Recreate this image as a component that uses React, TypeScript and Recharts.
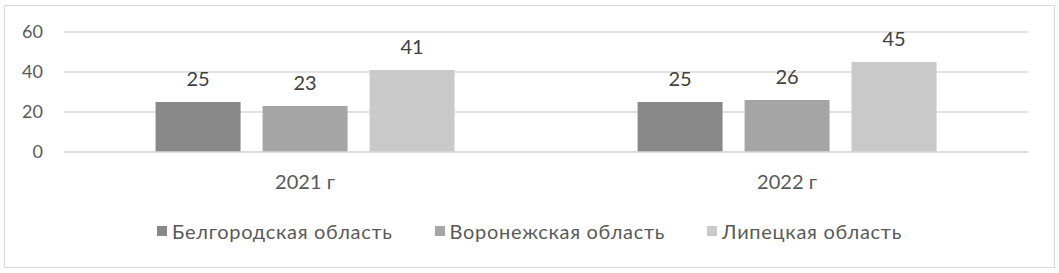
import React from "react";
import { BarChart, Bar, XAxis, YAxis, CartesianGrid, Legend, LabelList } from "recharts";

const years = ["2021 г", "2022 г"];
const belgorod = [25, 25];
const voronezh = [23, 26];
const lipetsk = [41, 45];
const yTicks = [0, 20, 40, 60];

const seriesNames = ["Белгородская область", "Воронежская область", "Липецкая область"];
const seriesColors = ["#898989", "#a5a5a5", "#c9c9c9"];

const data = years.map((y, i) => ({
  year: y,
  s0: belgorod[i],
  s1: voronezh[i],
  s2: lipetsk[i],
}));

const FONT = "Lato, 'Noto Sans', sans-serif";

function LegendContent() {
  return (
    <div
      style={{
        display: "flex",
        justifyContent: "center",
        fontFamily: FONT,
        fontSize: 20,
        letterSpacing: 0.7,
        color: "#595959",
        lineHeight: "24px",
      }}
    >
      {seriesNames.map((name, i) => (
        <div key={name} style={{ display: "flex", alignItems: "center", marginRight: i < 2 ? 42 : 0 }}>
          <span style={{ width: 10, height: 10, background: seriesColors[i], marginRight: 5, display: "inline-block" }} />
          <span>{name}</span>
        </div>
      ))}
    </div>
  );
}

export default function App() {
  return (
    <div style={{ position: "relative", width: 1059, height: 273, background: "#fff" }}>
      <style>{`body{margin:0}`}</style>
      <div
        style={{
          position: "absolute",
          left: 4,
          top: 5,
          width: 1049,
          height: 261,
          border: "1px solid #d9d9d9",
        }}
      />
      <BarChart
        width={1059}
        height={273}
        data={data}
        margin={{ top: 32, right: 31, bottom: 0, left: 0 }}
        barCategoryGap="19%"
        barGap={22}
        style={{ position: "absolute", left: 0, top: 0 }}
      >
        <CartesianGrid vertical={false} stroke="#d9d9d9" strokeWidth={1.5} />
        <XAxis
          dataKey="year"
          height={121}
          tickLine={false}
          tickSize={0}
          tickMargin={23}
          axisLine={{ stroke: "#d9d9d9", strokeWidth: 1.5 }}
          tick={{ fill: "#595959", fontSize: 20, fontFamily: FONT }}
        />
        <YAxis
          width={64}
          domain={[0, 60]}
          ticks={yTicks}
          tickLine={false}
          axisLine={false}
          tickSize={0}
          tickMargin={21}
          tick={{ fill: "#595959", fontSize: 18, fontFamily: FONT }}
        />
        <Legend
          verticalAlign="middle"
          align="center"
          content={<LegendContent />}
          wrapperStyle={{ top: 219, left: 0, width: 1059 }}
        />
        {["s0", "s1", "s2"].map((k, i) => (
          <Bar key={k} dataKey={k} name={seriesNames[i]} fill={seriesColors[i]} isAnimationActive={false}>
            <LabelList
              dataKey={k}
              position="top"
              offset={16}
              fill="#404040"
              fontSize={20}
              fontFamily={FONT}
            />
          </Bar>
        ))}
      </BarChart>
    </div>
  );
}
